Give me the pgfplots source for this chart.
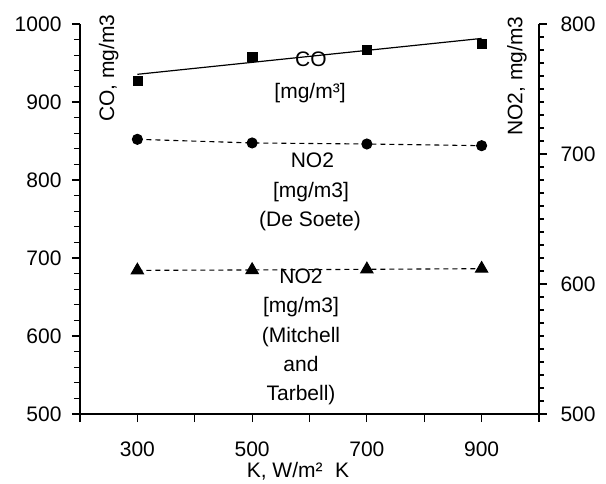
\documentclass[border=0pt]{standalone}
\usepackage{fontspec}
\setmainfont{Liberation Sans}
\usepackage{pgfplots}
\pgfplotsset{compat=1.18}
\begin{document}
\begin{tikzpicture}
\path[use as bounding box] (-80pt,-69pt) rectangle (526pt,414pt);
\begin{axis}[
  at={(0,0)}, anchor=south west,
  scale only axis, width=459pt, height=390pt,
  xmin=200, xmax=1000, ymin=500, ymax=1000,
  axis x line*=bottom, axis y line*=left,
  axis line style={-, line width=1.2pt},
  xtick={200,300,...,1000}, xticklabels={,300,,500,,700,,900,},
  ytick={500,600,...,1000},
  minor y tick num=4,
  tick align=outside,
  major tick length=8pt, minor tick length=6pt,
  tick style={line width=1.1pt, black},
  ticklabel style={font=\fontsize{21}{25}\selectfont},
  /pgf/number format/assume math mode=true,
  /pgf/number format/1000 sep={},
  yticklabel style={xshift=-7pt},
  xticklabel style={yshift=-16pt},
  clip=false,
]
\addplot[black, line width=1.2pt] coordinates {(300,935.5)(900,981.5)};
\addplot[only marks, mark=square*, mark size=4.6pt, black] coordinates {(300,927)(500,957.7)(700,966.7)(900,975.2)};
\begin{scope}[every node/.style={font=\fontsize{21}{25}\selectfont, anchor=base, inner sep=0pt}]
\node at (axis cs:602.6,944.9) {CO};
\node at (axis cs:600.9,905.1) {[mg/m³]};
\node at (axis cs:605,815.4) {NO2};
\node at (axis cs:602.6,778.2) {[mg/m3]};
\node at (axis cs:600.9,741.0) {(De Soete)};
\node at (axis cs:585.2,667.9) {NO2};
\node at (axis cs:585.2,630.1) {[mg/m3]};
\node at (axis cs:585.2,592.3) {(Mitchell};
\node at (axis cs:585.2,554.5) {and};
\node at (axis cs:585.2,516.7) {Tarbell)};
\node at (axis cs:580,418) {K, W/m²\hspace{0.6em}K};
\end{scope}
\node[rotate=90, anchor=center, inner sep=0pt, font=\fontsize{21}{25}\selectfont] at (axis cs:250,943.6) {CO, mg/m3};
\node[rotate=90, anchor=center, inner sep=0pt, font=\fontsize{21}{25}\selectfont] at (axis cs:961.7,933.3) {NO2, mg/m3};
\end{axis}
\begin{axis}[
  at={(0,0)}, anchor=south west,
  scale only axis, width=459pt, height=390pt,
  xmin=200, xmax=1000, ymin=500, ymax=800,
  axis x line=none, axis y line*=right,
  axis line style={-, line width=1.2pt},
  ytick={500,600,700,800},
  minor y tick num=9,
  tick align=outside,
  major tick length=8pt, minor tick length=5pt,
  tick style={line width=1.1pt, black},
  ticklabel style={font=\fontsize{21}{25}\selectfont},
  /pgf/number format/assume math mode=true,
  /pgf/number format/1000 sep={},
  yticklabel style={xshift=10pt},
  clip=false,
]
\addplot[black, line width=1.1pt, dash pattern=on 5pt off 4pt, mark=*, mark size=5pt, mark options={solid}] coordinates {(300,711.3)(500,708.5)(700,707.7)(900,706.4)};
\addplot[black, line width=1.1pt, dash pattern=on 5pt off 4pt, mark=triangle*, mark size=7pt, mark options={solid}] coordinates {(300,610.5)(500,610.8)(700,611.3)(900,611.8)};
\end{axis}
\end{tikzpicture}
\end{document}
